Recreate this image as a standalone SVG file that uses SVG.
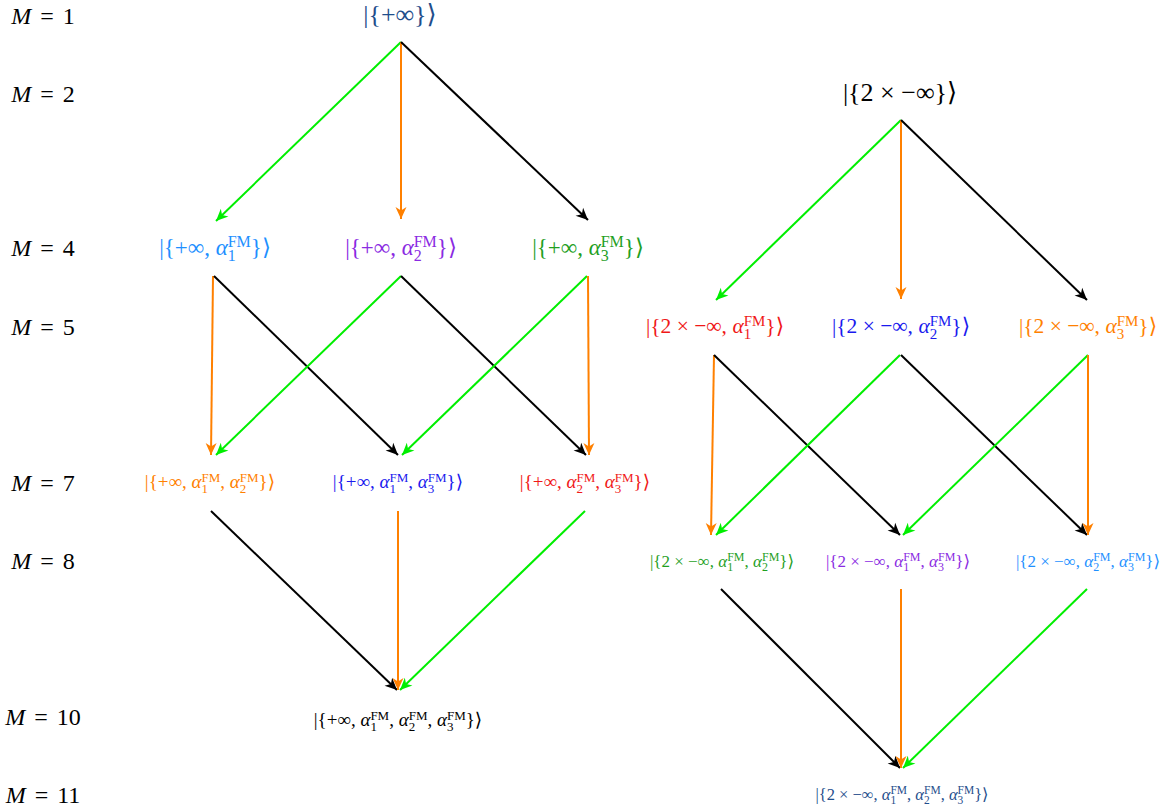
<svg xmlns="http://www.w3.org/2000/svg" width="1167" height="807" viewBox="0 0 1167 807">
<style>
text{font-family:'Liberation Serif','DejaVu Serif','DejaVu Sans',serif;text-anchor:middle}
.lab{font-size:24px;fill:#000}
.t0{font-size:26px}
.t1{font-size:23px}
.t1b{font-size:21.5px}
.t2{font-size:19px}
.t3{font-size:17px}
.t4{font-size:16.5px}
.it{font-style:italic}
.e{fill:none;stroke-width:2}
.k{stroke:#000;marker-end:url(#mk)}
.g{stroke:#00ee00;marker-end:url(#mg)}
.o{stroke:#ff8000;marker-end:url(#mo)}
.dk{fill:#1f4e8c}.db{fill:#1e90ff}.pu{fill:#8a2be2}.gr{fill:#1fa01f}
.rd{fill:#f01818}.bl{fill:#1a1aee}.or{fill:#ff8000}.bk{fill:#000}
</style>
<defs>
<marker id="mk" markerUnits="userSpaceOnUse" orient="auto" refX="0" refY="0" markerWidth="1" markerHeight="1" overflow="visible"><path d="M0,0 L-12,-5.5 L-8.5,0 L-12,5.5 Z" fill="#000"/></marker>
<marker id="mg" markerUnits="userSpaceOnUse" orient="auto" refX="0" refY="0" markerWidth="1" markerHeight="1" overflow="visible"><path d="M0,0 L-12,-5.5 L-8.5,0 L-12,5.5 Z" fill="#00ee00"/></marker>
<marker id="mo" markerUnits="userSpaceOnUse" orient="auto" refX="0" refY="0" markerWidth="1" markerHeight="1" overflow="visible"><path d="M0,0 L-12,-5.5 L-8.5,0 L-12,5.5 Z" fill="#ff8000"/></marker>
</defs>
<rect width="1167" height="807" fill="#fff"/>

<g id="levels">
<text class="lab" x="43" y="24"><tspan class="it">M</tspan><tspan dx="9">=</tspan><tspan dx="9">1</tspan></text>
<text class="lab" x="43" y="102"><tspan class="it">M</tspan><tspan dx="9">=</tspan><tspan dx="9">2</tspan></text>
<text class="lab" x="43" y="256"><tspan class="it">M</tspan><tspan dx="9">=</tspan><tspan dx="9">4</tspan></text>
<text class="lab" x="43" y="335"><tspan class="it">M</tspan><tspan dx="9">=</tspan><tspan dx="9">5</tspan></text>
<text class="lab" x="43" y="491"><tspan class="it">M</tspan><tspan dx="9">=</tspan><tspan dx="9">7</tspan></text>
<text class="lab" x="43" y="569"><tspan class="it">M</tspan><tspan dx="9">=</tspan><tspan dx="9">8</tspan></text>
<text class="lab" x="43" y="725"><tspan class="it">M</tspan><tspan dx="9">=</tspan><tspan dx="9">10</tspan></text>
<text class="lab" x="43" y="803"><tspan class="it">M</tspan><tspan dx="9">=</tspan><tspan dx="9">11</tspan></text>
</g>

<g id="connectors">
<line class="e g" x1="401" y1="42" x2="216" y2="221"/>
<line class="e o" x1="401" y1="42" x2="401" y2="219"/>
<line class="e k" x1="401" y1="42" x2="588" y2="220"/>

<line class="e o" x1="213" y1="276" x2="211" y2="455"/>
<line class="e k" x1="214" y1="276" x2="398" y2="455"/>
<line class="e g" x1="401" y1="276" x2="216" y2="455"/>
<line class="e k" x1="401" y1="276" x2="586" y2="455"/>
<line class="e g" x1="587" y1="276" x2="402" y2="455"/>
<line class="e o" x1="588" y1="276" x2="589" y2="455"/>

<line class="e k" x1="211" y1="511" x2="397" y2="690"/>
<line class="e o" x1="398" y1="511" x2="398" y2="690"/>
<line class="e g" x1="585" y1="511" x2="400" y2="690"/>

<line class="e g" x1="901" y1="120" x2="716" y2="300"/>
<line class="e o" x1="901" y1="120" x2="901" y2="299"/>
<line class="e k" x1="901" y1="120" x2="1087" y2="300"/>

<line class="e o" x1="714" y1="355" x2="711" y2="535"/>
<line class="e k" x1="714" y1="355" x2="900" y2="535"/>
<line class="e g" x1="900" y1="355" x2="716" y2="535"/>
<line class="e k" x1="901" y1="355" x2="1087" y2="535"/>
<line class="e g" x1="1088" y1="355" x2="903" y2="535"/>
<line class="e o" x1="1088" y1="355" x2="1088" y2="535"/>

<line class="e k" x1="721" y1="589" x2="900" y2="768"/>
<line class="e o" x1="901" y1="589" x2="901" y2="768"/>
<line class="e g" x1="1087" y1="589" x2="903" y2="768"/>
</g>

<g id="n1"><text class="t0 dk" x="400" y="23">|{+∞}⟩</text></g>
<g id="n2"><text class="t0 bk" x="900" y="101">|{2 × −∞}⟩</text></g>

<g id="n4a"><text class="t1 db" x="215" y="255">|{+∞, <tspan class="it">α</tspan><tspan font-size="16" dy="6">1</tspan><tspan font-size="16" dx="-8" dy="-14">FM</tspan><tspan dy="8">}⟩</tspan></text></g>
<g id="n4b"><text class="t1 pu" x="401" y="255">|{+∞, <tspan class="it">α</tspan><tspan font-size="16" dy="6">2</tspan><tspan font-size="16" dx="-8" dy="-14">FM</tspan><tspan dy="8">}⟩</tspan></text></g>
<g id="n4c"><text class="t1 gr" x="588" y="255">|{+∞, <tspan class="it">α</tspan><tspan font-size="16" dy="6">3</tspan><tspan font-size="16" dx="-8" dy="-14">FM</tspan><tspan dy="8">}⟩</tspan></text></g>

<g id="n5a"><text class="t1b rd" x="715" y="333">|{2 × −∞, <tspan class="it">α</tspan><tspan font-size="15" dy="6">1</tspan><tspan font-size="15" dx="-7.5" dy="-13">FM</tspan><tspan dy="7">}⟩</tspan></text></g>
<g id="n5b"><text class="t1b bl" x="901" y="333">|{2 × −∞, <tspan class="it">α</tspan><tspan font-size="15" dy="6">2</tspan><tspan font-size="15" dx="-7.5" dy="-13">FM</tspan><tspan dy="7">}⟩</tspan></text></g>
<g id="n5c"><text class="t1b or" x="1088" y="333">|{2 × −∞, <tspan class="it">α</tspan><tspan font-size="15" dy="6">3</tspan><tspan font-size="15" dx="-7.5" dy="-13">FM</tspan><tspan dy="7">}⟩</tspan></text></g>

<g id="n7a"><text class="t2 or" x="210" y="488">|{+∞, <tspan class="it">α</tspan><tspan font-size="13" dy="5">1</tspan><tspan font-size="13" dx="-6.5" dy="-11">FM</tspan><tspan dy="6">, </tspan><tspan class="it">α</tspan><tspan font-size="13" dy="5">2</tspan><tspan font-size="13" dx="-6.5" dy="-11">FM</tspan><tspan dy="6">}⟩</tspan></text></g>
<g id="n7b"><text class="t2 bl" x="398" y="488">|{+∞, <tspan class="it">α</tspan><tspan font-size="13" dy="5">1</tspan><tspan font-size="13" dx="-6.5" dy="-11">FM</tspan><tspan dy="6">, </tspan><tspan class="it">α</tspan><tspan font-size="13" dy="5">3</tspan><tspan font-size="13" dx="-6.5" dy="-11">FM</tspan><tspan dy="6">}⟩</tspan></text></g>
<g id="n7c"><text class="t2 rd" x="585" y="488">|{+∞, <tspan class="it">α</tspan><tspan font-size="13" dy="5">2</tspan><tspan font-size="13" dx="-6.5" dy="-11">FM</tspan><tspan dy="6">, </tspan><tspan class="it">α</tspan><tspan font-size="13" dy="5">3</tspan><tspan font-size="13" dx="-6.5" dy="-11">FM</tspan><tspan dy="6">}⟩</tspan></text></g>

<g id="n8a"><text class="t3 gr" x="722" y="567">|{2 × −∞, <tspan class="it">α</tspan><tspan font-size="12" dy="4">1</tspan><tspan font-size="12" dx="-6" dy="-10">FM</tspan><tspan dy="6">, </tspan><tspan class="it">α</tspan><tspan font-size="12" dy="4">2</tspan><tspan font-size="12" dx="-6" dy="-10">FM</tspan><tspan dy="6">}⟩</tspan></text></g>
<g id="n8b"><text class="t3 pu" x="898" y="567">|{2 × −∞, <tspan class="it">α</tspan><tspan font-size="12" dy="4">1</tspan><tspan font-size="12" dx="-6" dy="-10">FM</tspan><tspan dy="6">, </tspan><tspan class="it">α</tspan><tspan font-size="12" dy="4">3</tspan><tspan font-size="12" dx="-6" dy="-10">FM</tspan><tspan dy="6">}⟩</tspan></text></g>
<g id="n8c"><text class="t3 db" x="1088" y="567">|{2 × −∞, <tspan class="it">α</tspan><tspan font-size="12" dy="4">2</tspan><tspan font-size="12" dx="-6" dy="-10">FM</tspan><tspan dy="6">, </tspan><tspan class="it">α</tspan><tspan font-size="12" dy="4">3</tspan><tspan font-size="12" dx="-6" dy="-10">FM</tspan><tspan dy="6">}⟩</tspan></text></g>

<g id="n10"><text class="t2 bk" x="398" y="726">|{+∞, <tspan class="it">α</tspan><tspan font-size="13" dy="5">1</tspan><tspan font-size="13" dx="-6.5" dy="-11">FM</tspan><tspan dy="6">, </tspan><tspan class="it">α</tspan><tspan font-size="13" dy="5">2</tspan><tspan font-size="13" dx="-6.5" dy="-11">FM</tspan><tspan dy="6">, </tspan><tspan class="it">α</tspan><tspan font-size="13" dy="5">3</tspan><tspan font-size="13" dx="-6.5" dy="-11">FM</tspan><tspan dy="6">}⟩</tspan></text></g>

<g id="n11"><text class="t4 dk" x="902" y="800">|{2 × −∞, <tspan class="it">α</tspan><tspan font-size="11.5" dy="4">1</tspan><tspan font-size="11.5" dx="-5.75" dy="-10">FM</tspan><tspan dy="6">, </tspan><tspan class="it">α</tspan><tspan font-size="11.5" dy="4">2</tspan><tspan font-size="11.5" dx="-5.75" dy="-10">FM</tspan><tspan dy="6">, </tspan><tspan class="it">α</tspan><tspan font-size="11.5" dy="4">3</tspan><tspan font-size="11.5" dx="-5.75" dy="-10">FM</tspan><tspan dy="6">}⟩</tspan></text></g>
</svg>
